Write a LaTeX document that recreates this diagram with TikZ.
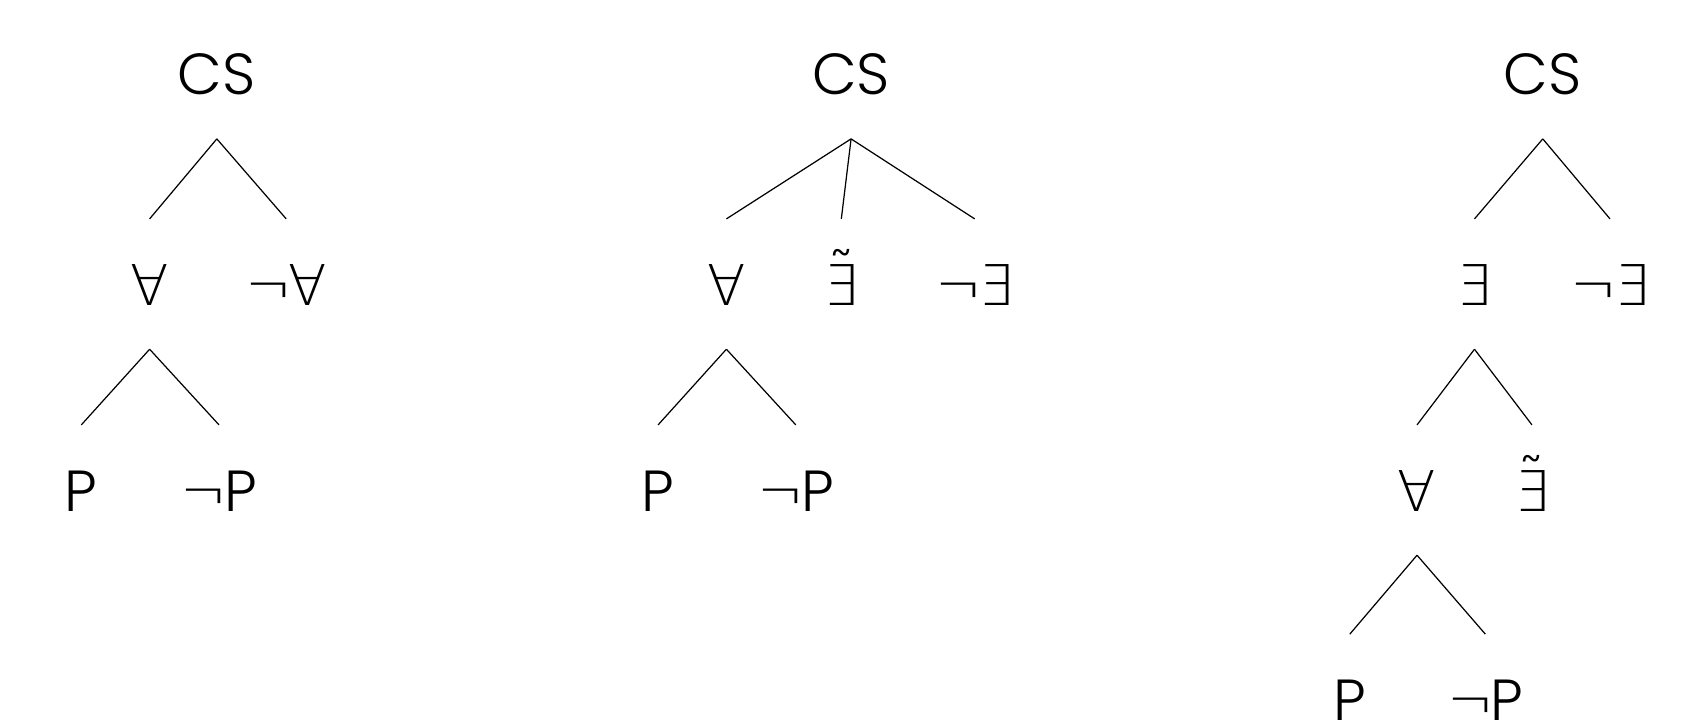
\documentclass[tikz,border=0pt]{standalone}
\usepackage{fontspec}
\setmainfont{Poppins}[UprightFont=* Light]
\newfontfamily\logicfont{DejaVu Sans ExtraLight}
\usetikzlibrary{positioning}

\newcommand{\lgfa}{{\logicfont\fontsize{16}{19}\selectfont ∀}}
\newcommand{\lgex}{{\logicfont\fontsize{16}{19}\selectfont ∃}}
\newcommand{\lgtex}{{\logicfont\fontsize{16}{19}\selectfont\ooalign{∃\cr\hidewidth\raisebox{0.22em}{\char"02DC}\hidewidth\cr}}}
\newcommand{\lgng}{{\logicfont\fontsize{16}{19}\selectfont ¬}\kern-1pt}

\begin{document}
\begin{tikzpicture}[
  x=0.010842cm, y=-0.010842cm,
  term/.style={font=\fontsize{16.5}{20}\selectfont, inner sep=0pt, text height=12pt, text depth=0pt, minimum height=1.29cm},
  branch/.style={draw=black, line width=0.35pt}
]
\useasboundingbox (0,0) rectangle (1568,664);

% first tree
\node[term] (cs1) at (200,68) {CS};
\node[term] (a1) at (138,262) {\lgfa};
\node[term] (na1) at (264,262) {\lgng\lgfa};
\node[term] (p1) at (75,452) {P};
\node[term] (np1) at (202,452) {\lgng P};

\draw[branch] (cs1.south) -- (a1.north);
\draw[branch] (cs1.south) -- (na1.north);
\draw[branch] (a1.south) -- (p1.north);
\draw[branch] (a1.south) -- (np1.north);

% second tree
\node[term] (cs2) at (785,68) {CS};
\node[term] (a2) at (670,262) {\lgfa};
\node[term] (te2) at (776,262) {\lgtex};
\node[term] (ne2) at (899,262) {\lgng\lgex};
\node[term] (p2) at (607,452) {P};
\node[term] (np2) at (734,452) {\lgng P};

\draw[branch] (cs2.south) -- (a2.north);
\draw[branch] (cs2.south) -- (te2.north);
\draw[branch] (cs2.south) -- (ne2.north);
\draw[branch] (a2.south) -- (p2.north);
\draw[branch] (a2.south) -- (np2.north);

% third tree
\node[term] (cs3) at (1423,68) {CS};
\node[term] (e3) at (1360,262) {\lgex};
\node[term] (ne3) at (1485,262) {\lgng\lgex};
\node[term] (a3) at (1307,452) {\lgfa};
\node[term] (te3) at (1413,452) {\lgtex};
\node[term] (p3) at (1245,645) {P};
\node[term] (np3) at (1370,645) {\lgng P};

\draw[branch] (cs3.south) -- (e3.north);
\draw[branch] (cs3.south) -- (ne3.north);
\draw[branch] (e3.south) -- (a3.north);
\draw[branch] (e3.south) -- (te3.north);
\draw[branch] (a3.south) -- (p3.north);
\draw[branch] (a3.south) -- (np3.north);
\end{tikzpicture}
\end{document}
